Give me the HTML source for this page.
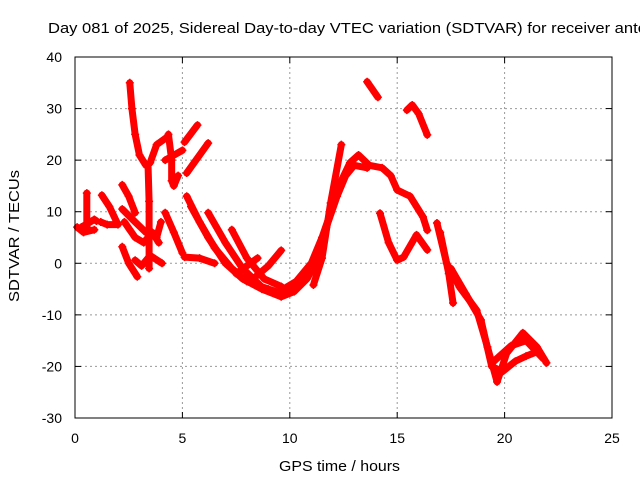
<!DOCTYPE html>
<html><head><meta charset="utf-8"><style>
body{margin:0;background:#fff;}
svg text{font-family:"Liberation Sans",sans-serif;fill:#000;}
</style></head><body>
<svg id="chart" width="640" height="480" xmlns="http://www.w3.org/2000/svg">
<text x="48" y="33" font-size="15" textLength="598" lengthAdjust="spacingAndGlyphs">Day 081 of 2025, Sidereal Day-to-day VTEC variation (SDTVAR) for receiver antc</text>
<g id="grid"></g>
<g id="ticks"></g>
<g id="series"></g>
<rect x="75" y="57" width="537" height="361" fill="none" stroke="#000"/>
<text x="279" y="471" font-size="15" textLength="121" lengthAdjust="spacingAndGlyphs">GPS time / hours</text>
<text transform="translate(19,302) rotate(-90)" font-size="15" textLength="132" lengthAdjust="spacingAndGlyphs">SDTVAR / TECUs</text>
</svg>
<script>
const xTicks=[0,5,10,15,20,25];
const yTicks=[-30,-20,-10,0,10,20,30,40];
const tracks=[
[[2.55,35],[2.65,30],[2.8,25],[3.0,21],[3.3,19]],
[[3.4,19],[3.45,12],[3.45,5],[3.45,-1]],
[[3.5,19.5],[3.8,23],[4.3,24.5]],
[[4.35,25],[4.5,20],[4.5,16],[4.6,15],[4.8,17]],
[[4.2,20],[5.0,21.9]],
[[5.1,23.5],[5.7,26.8]],
[[5.2,17.5],[6.2,23.3]],
[[0.55,13.6],[0.55,7]],
[[0.1,7],[0.4,6],[0.9,6.5]],
[[0.3,7],[0.9,8.5],[1.0,8.2]],
[[1.25,13.2],[1.6,11],[2.0,7.5],[1.5,7.5],[1.2,8]],
[[2.2,15.2],[2.5,13],[2.8,9.8]],
[[2.2,10.5],[2.8,8],[3.3,6],[3.8,5],[4.0,8]],
[[2.3,8],[2.8,5],[3.2,4],[3.6,6],[3.9,4]],
[[2.2,3.2],[2.5,0],[2.9,-2.6]],
[[2.8,0.6],[3.1,-0.5],[3.5,1.5],[4.05,0]],
[[4.2,9.8],[4.6,6],[5.0,2]],
[[5.1,1.2],[5.8,1],[6.5,0]],
[[5.2,13],[5.8,8],[6.5,3],[7.3,-1],[8.0,-3.5],[9.0,-5],[9.6,-5.8]],
[[5.4,11],[6.2,5],[7.0,0],[7.8,-3],[8.7,-5],[9.6,-6.5],[10.2,-5.5],[10.8,-3],[11.2,0]],
[[6.2,9.8],[7.0,4],[7.8,-1],[8.7,-4.6]],
[[7.3,6.5],[8.0,1],[8.8,-3],[9.6,-4.5]],
[[7.5,-2],[8.0,-0.5],[8.5,1]],
[[8.3,-3],[9.0,-0.5],[9.6,2.5]],
[[9.5,-5.5],[10.3,-3.5],[11.0,0],[11.5,5],[12.0,11],[12.4,16],[12.8,19.5],[13.2,21],[13.7,19],[14.3,18.5],[14.7,17],[15.0,14.2],[15.6,13],[16.2,9],[16.4,6.4]],
[[9.8,-6],[10.6,-3],[11.2,1],[11.7,7],[12.2,13],[12.6,17],[13.0,19],[13.6,18.5]],
[[11.1,-4.2],[11.5,1],[11.9,11.7],[12.4,23]],
[[13.6,35.2],[14.1,32.2]],
[[15.45,29.7],[15.7,30.7],[16.0,29],[16.4,24.9]],
[[14.2,9.7],[14.6,4],[15.0,0.6],[15.3,1.2],[15.9,5.5],[16.4,2.6]],
[[16.85,7.8],[17.3,0],[17.9,-4.6],[18.7,-9.1],[19.2,-16.2],[19.65,-23],[20.1,-17.4],[20.85,-13.5],[21.5,-16.2],[21.95,-19.3]],
[[17.0,6],[17.4,-2],[17.6,-7.7]],
[[17.5,-1],[18.2,-6],[18.9,-11],[19.4,-20],[19.9,-21],[20.5,-19],[21.0,-18],[21.6,-17]],
[[19.5,-19],[20.3,-16],[21.0,-15],[21.8,-18.5]]
];
const X=v=>75+v*537/25, Y=v=>57+(40-v)*361/70;
const NS="http://www.w3.org/2000/svg";
const g=document.getElementById('grid'),tk=document.getElementById('ticks'),s=document.getElementById('series');
function mk(tag,attrs,parent){const e=document.createElementNS(NS,tag);for(const k in attrs)e.setAttribute(k,attrs[k]);parent.appendChild(e);return e;}
xTicks.forEach(t=>{
 if(t>0&&t<25){const l=mk('line',{x1:X(t),x2:X(t),y1:57,y2:418,stroke:'#999','stroke-dasharray':'2,3'},g);
 
 }
 mk('line',{x1:X(t),x2:X(t),y1:418,y2:412,stroke:'#000'},tk);
 mk('line',{x1:X(t),x2:X(t),y1:57,y2:63,stroke:'#000'},tk);
 const tx=mk('text',{x:X(t),y:443,'font-size':14,'text-anchor':'middle'},tk);tx.textContent=t;
 
 
});
yTicks.forEach(t=>{
 if(t>-30&&t<40){const l=mk('line',{x1:75,x2:612,y1:Y(t),y2:Y(t),stroke:'#999','stroke-dasharray':'2,3'},g);
 
 }
 mk('line',{x1:75,x2:81,y1:Y(t),y2:Y(t),stroke:'#000'},tk);
 mk('line',{x1:612,x2:606,y1:Y(t),y2:Y(t),stroke:'#000'},tk);
 const tx=mk('text',{x:62,y:Y(t)+5,'font-size':14,'text-anchor':'end'},tk);tx.textContent=t;
 
 
});
tracks.forEach(tr=>{
 const p=mk('polyline',{points:tr.map(d=>X(d[0])+','+Y(d[1])).join(' '),fill:'none',stroke:'#f00','stroke-width':7,'stroke-linejoin':'round','stroke-linecap':'round'},s);
 
 
 tr.forEach(d=>{const x=X(d[0]),y=Y(d[1]);
  const m=mk('path',{d:`M${x-4},${y}H${x+4}M${x},${y-4}V${y+4}`,stroke:'#f00','stroke-width':1.5},s);
  
  });
});
</script>
</body></html>
